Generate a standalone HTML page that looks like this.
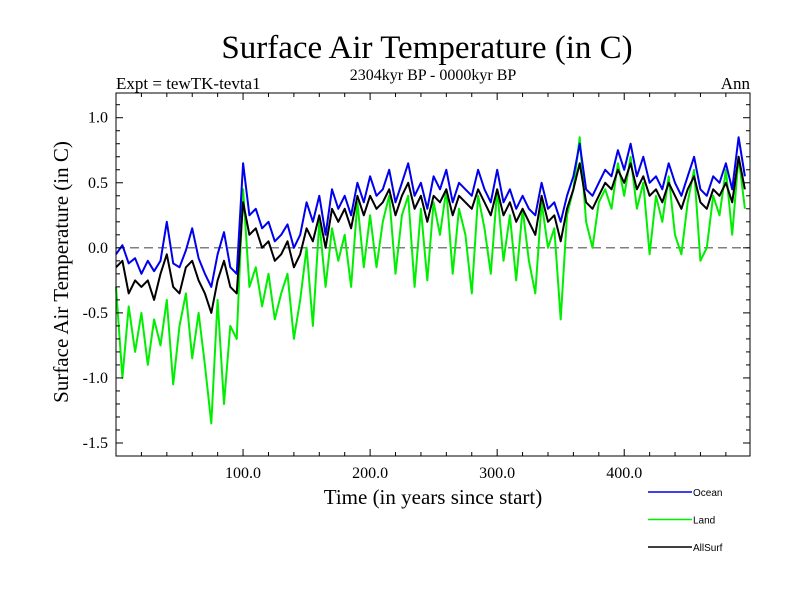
<!DOCTYPE html>
<html><head><meta charset="utf-8"><style>
body{margin:0;background:#fff;}
svg text{font-family:"Liberation Serif",serif;fill:#000;}
</style></head><body>
<svg id="chart" width="800" height="600" xmlns="http://www.w3.org/2000/svg">
<rect width="800" height="600" fill="#fff"/>
<text x="427" y="58" font-size="33" text-anchor="middle">Surface Air Temperature (in C)</text>
<text x="433" y="80" font-size="16" text-anchor="middle">2304kyr BP - 0000kyr BP</text>
<text x="116" y="89" font-size="17">Expt = tewTK-tevta1</text>
<text x="750" y="89" font-size="17" text-anchor="end">Ann</text>
<text x="433" y="504" font-size="21" text-anchor="middle">Time (in years since start)</text>
<text transform="translate(68,272) rotate(-90)" font-size="21" text-anchor="middle">Surface Air Temperature (in C)</text>
<g id="series"></g>
<g id="axes"></g>
<g id="legend"></g>
</svg>
<script>
const years=[];for(let i=0;i<100;i++)years.push(i*5);
const ocean=[-0.05,0.02,-0.12,-0.08,-0.2,-0.1,-0.18,-0.1,0.2,-0.12,-0.15,-0.02,0.15,-0.08,-0.2,-0.3,-0.05,0.12,-0.15,-0.2,
0.65,0.25,0.3,0.15,0.2,0.05,0.1,0.18,0.0,0.1,0.35,0.2,0.4,0.1,0.45,0.3,0.4,0.25,0.5,0.35,
0.55,0.4,0.45,0.6,0.35,0.5,0.65,0.4,0.5,0.3,0.55,0.45,0.6,0.35,0.5,0.45,0.4,0.6,0.45,0.35,
0.6,0.35,0.45,0.3,0.4,0.3,0.25,0.5,0.3,0.35,0.2,0.4,0.55,0.8,0.45,0.4,0.5,0.6,0.55,0.75,
0.6,0.8,0.55,0.7,0.5,0.55,0.45,0.65,0.5,0.4,0.55,0.7,0.45,0.4,0.55,0.5,0.65,0.45,0.85,0.55];
const land=[-0.3,-1.0,-0.45,-0.8,-0.5,-0.9,-0.55,-0.75,-0.4,-1.05,-0.6,-0.35,-0.85,-0.5,-0.9,-1.35,-0.4,-1.2,-0.6,-0.7,
0.45,-0.3,-0.15,-0.45,-0.2,-0.55,-0.35,-0.2,-0.7,-0.4,0.0,-0.6,0.2,-0.3,0.15,-0.1,0.1,-0.3,0.35,-0.15,
0.25,-0.15,0.2,0.4,-0.2,0.25,0.4,-0.3,0.3,-0.25,0.35,0.1,0.45,-0.2,0.3,0.1,-0.35,0.4,0.15,-0.2,
0.45,-0.1,0.25,-0.25,0.3,-0.1,-0.35,0.35,0.0,0.15,-0.55,0.25,0.45,0.85,0.2,0.0,0.35,0.45,0.3,0.65,
0.4,0.7,0.3,0.5,-0.05,0.4,0.2,0.55,0.1,-0.05,0.35,0.6,-0.1,0.0,0.4,0.25,0.6,0.1,0.7,0.3];
const allsurf=[-0.15,-0.1,-0.35,-0.25,-0.3,-0.25,-0.4,-0.2,-0.05,-0.3,-0.35,-0.15,-0.1,-0.25,-0.35,-0.5,-0.25,-0.1,-0.3,-0.35,
0.35,0.1,0.15,0.0,0.05,-0.1,-0.05,0.05,-0.15,-0.05,0.15,0.05,0.25,0.0,0.3,0.2,0.3,0.15,0.4,0.25,
0.4,0.3,0.35,0.45,0.25,0.4,0.5,0.3,0.4,0.2,0.4,0.35,0.45,0.25,0.4,0.35,0.3,0.45,0.35,0.25,
0.45,0.25,0.35,0.2,0.3,0.2,0.1,0.4,0.2,0.25,0.05,0.3,0.45,0.65,0.35,0.3,0.4,0.5,0.45,0.6,
0.5,0.65,0.45,0.55,0.4,0.45,0.35,0.5,0.4,0.3,0.45,0.55,0.35,0.3,0.45,0.4,0.5,0.35,0.7,0.45];
const xTicks=[100,200,300,400];
const xTickLabels=["100.0","200.0","300.0","400.0"];
const yTicks=[1.0,0.5,0.0,-0.5,-1.0,-1.5];
const yTickLabels=["1.0","0.5","0.0","-0.5","-1.0","-1.5"];
const seriesNames=["Ocean","Land","AllSurf"];

const L=116,R=750,T=93,B=456,X0=0,X1=499,Y0=-1.6,Y1=1.19;
const sx=v=>L+(v-X0)/(X1-X0)*(R-L);
const sy=v=>B-(v-Y0)/(Y1-Y0)*(B-T);
const NS="http://www.w3.org/2000/svg";
function mk(tag,attrs,parent){const e=document.createElementNS(NS,tag);for(const k in attrs)e.setAttribute(k,attrs[k]);parent.appendChild(e);return e;}
const sg=document.getElementById('series'),ax=document.getElementById('axes'),lg=document.getElementById('legend');

const zl=mk('line',{x1:L,x2:R,y1:sy(0),y2:sy(0),stroke:'#555','stroke-width':1.2,'stroke-dasharray':'9,5'},sg);



function drawSeries(vals,color,name){
  const pts=years.map((y,i)=>sx(y).toFixed(1)+','+sy(vals[i]).toFixed(1)).join(' ');
  const p=mk('polyline',{points:pts,fill:'none',stroke:color,'stroke-width':2,'stroke-linejoin':'round'},sg);
  
  
}
drawSeries(land,'#00ee00','land-line');
drawSeries(allsurf,'#000','allsurf-line');
drawSeries(ocean,'#0000ee','ocean-line');

const fr=mk('rect',{x:L,y:T,width:R-L,height:B-T,fill:'none',stroke:'#000','stroke-width':1},ax);


for(let v=0;v<=X1;v+=20){
  const big=v%100===0,len=big?7:4;
  mk('line',{x1:sx(v),x2:sx(v),y1:B,y2:B-len,stroke:'#000'},ax);
  mk('line',{x1:sx(v),x2:sx(v),y1:T,y2:T+len,stroke:'#000'},ax);
}
for(let k=-16;k<=11;k++){
  const v=k/10,big=k%5===0,len=big?7:4;
  mk('line',{x1:L,x2:L+len,y1:sy(v),y2:sy(v),stroke:'#000'},ax);
  mk('line',{x1:R,x2:R-len,y1:sy(v),y2:sy(v),stroke:'#000'},ax);
}
xTicks.forEach((v,i)=>{
  const t=mk('text',{x:sx(v),y:B+22,'font-size':16,'text-anchor':'middle'},ax);t.textContent=xTickLabels[i];
  
  
});
yTicks.forEach((v,i)=>{
  const t=mk('text',{x:L-8,y:sy(v)+5,'font-size':16,'text-anchor':'end'},ax);t.textContent=yTickLabels[i];
  
  
});
const lcols=['#0000ee','#00ee00','#000'];
seriesNames.forEach((n,i)=>{
  const y=492+i*27.5;
  const ln=mk('line',{x1:648,x2:692,y1:y,y2:y,stroke:lcols[i],'stroke-width':1.5},lg);
  
  
  const t=mk('text',{x:693,y:y+4,'font-size':10},lg);
  t.setAttribute('style','font-family:"Liberation Sans",sans-serif');
  t.textContent=n;
  
  
});
</script>
</body></html>
